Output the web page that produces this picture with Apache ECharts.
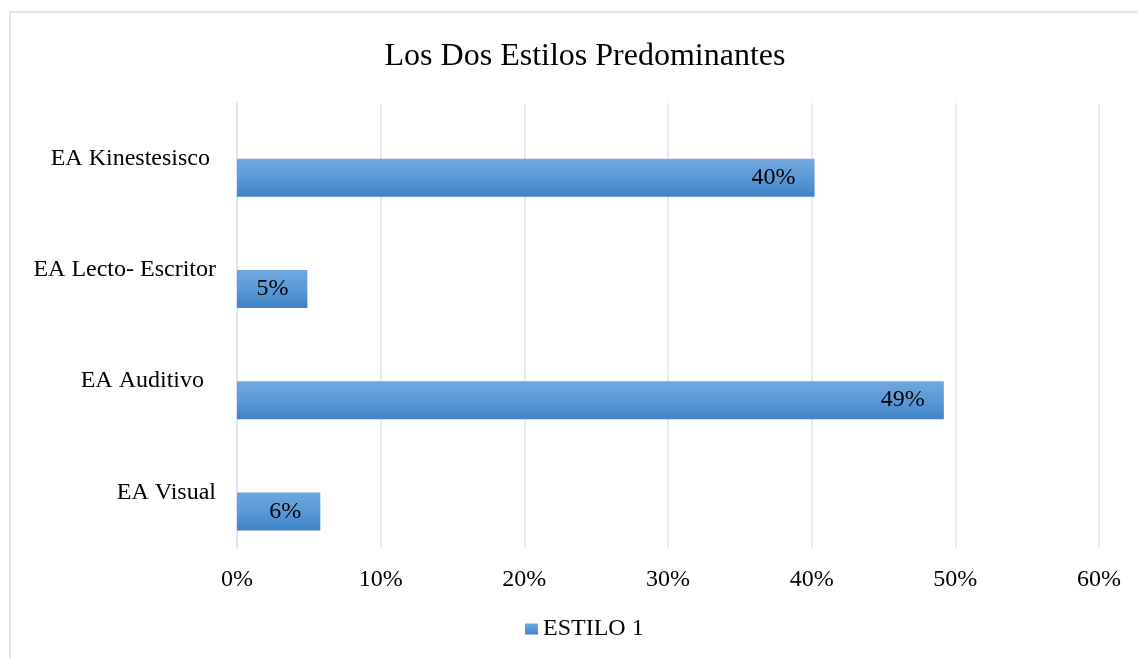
<!DOCTYPE html>
<html>
<head>
<meta charset="utf-8">
<script src="https://cdn.jsdelivr.net/npm/echarts@6/dist/echarts.min.js"></script>
<style>
html,body{margin:0;padding:0;background:#fff;}
#chart{width:1138px;height:658px;}
</style>
</head>
<body>
<div id="chart"></div>
<script>
const categories = ['EA Visual', 'EA Auditivo  ', 'EA Lecto- Escritor', 'EA Kinestesisco '];
const estilo1 = [5.8, 49.2, 4.9, 40.2];
const estilo2 = [];
const xTicks = [0, 10, 20, 30, 40, 50, 60];

const FONT = 'Liberation Serif';
const chart = echarts.init(document.getElementById('chart'));
chart.setOption({
  backgroundColor: '#fff',
  animation: false,
  graphic: [{
    type: 'rect', z: -1,
    shape: {x: 10, y: 12, width: 1200, height: 700},
    style: {fill: 'none', stroke: '#dadde3', lineWidth: 1.5}
  }],
  title: {
    text: 'Los Dos Estilos Predominantes',
    left: 580, textAlign: 'center', top: 36,
    textStyle: {fontFamily: FONT, fontSize: 32, fontWeight: 'normal', color: '#000'}
  },
  legend: {
    data: ['ESTILO 1'],
    left: 520, top: 612,
    icon: 'rect', itemWidth: 13, itemHeight: 11, itemGap: 10,
    textStyle: {fontFamily: FONT, fontSize: 24, color: '#000', padding: [0, 0, 0, 0]}
  },
  grid: {left: 237, right: 39, top: 103, bottom: 110, containLabel: false},
  xAxis: {
    type: 'value', min: 0, max: 60, interval: 10,
    axisLine: {show: false}, axisTick: {show: false},
    splitLine: {show: true, lineStyle: {color: '#dfe3ea', width: 1.5}},
    axisLabel: {fontFamily: FONT, fontSize: 24, color: '#000', margin: 20,
      formatter: v => xTicks.includes(v) ? v + '%' : ''}
  },
  yAxis: {
    type: 'category', data: categories,
    axisLine: {show: true, lineStyle: {color: '#dfe3ea', width: 1.5}},
    axisTick: {show: false},
    axisLabel: {fontFamily: FONT, fontSize: 24, color: '#000', margin: 21}
  },
  series: [
    {name: 'ESTILO 2', type: 'bar', data: estilo2, barWidth: 38, barGap: '0%'},
    {
      name: 'ESTILO 1', type: 'bar', data: estilo1, barWidth: 38, barGap: '0%',
      itemStyle: {
        color: new echarts.graphic.LinearGradient(0, 0, 0, 1, [
          {offset: 0, color: '#70a8de'},
          {offset: 0.5, color: '#5c9ad7'},
          {offset: 1, color: '#3f82c4'}
        ])
      },
      label: {
        show: true, position: 'insideRight', distance: 19,
        fontFamily: FONT, fontSize: 24, color: '#000',
        formatter: p => Math.round(p.value) + '%'
      }
    }
  ]
});
</script>
</body>
</html>
